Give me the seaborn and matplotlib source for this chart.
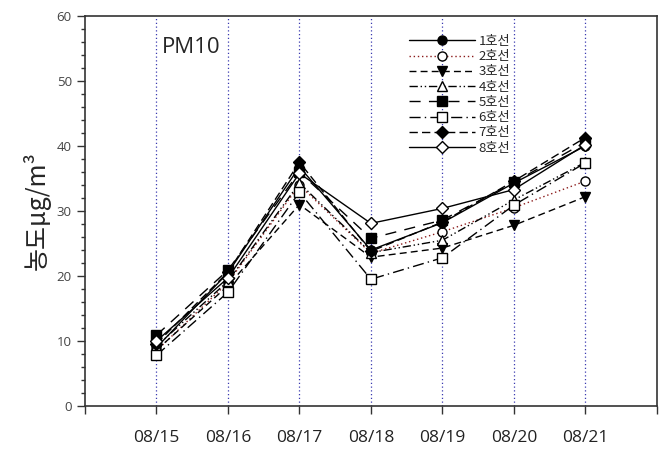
import matplotlib
matplotlib.use("Agg")
import matplotlib.pyplot as plt
import seaborn as sns
import pandas as pd
from matplotlib.ticker import MultipleLocator, FixedLocator

sns.set_theme(style="white")
plt.rcParams['font.family'] = ['Noto Sans CJK KR', 'DejaVu Sans']

dates = ["08/15", "08/16", "08/17", "08/18", "08/19", "08/20", "08/21"]
line1 = [9.0, 20.5, 36.8, 24.0, 28.2, 34.3, 40.0]
line2 = [8.5, 19.0, 34.0, 23.5, 26.8, 30.5, 34.6]
line3 = [8.6, 18.5, 31.0, 22.9, 24.3, 27.8, 32.2]
line4 = [9.2, 19.2, 34.3, 23.6, 25.5, 31.7, 37.5]
line5 = [10.9, 20.9, 36.0, 25.8, 28.6, 34.4, 40.6]
line6 = [7.8, 17.5, 32.9, 19.5, 22.8, 30.9, 37.4]
line7 = [9.6, 20.6, 37.5, 23.8, 28.3, 34.6, 41.3]
line8 = [10.0, 19.7, 35.8, 28.1, 30.4, 33.3, 40.2]
names = ["1호선", "2호선", "3호선", "4호선", "5호선", "6호선", "7호선", "8호선"]
series = [line1, line2, line3, line4, line5, line6, line7, line8]

styles = [
    dict(marker='o', mfc='black', ls='-', color='black'),
    dict(marker='o', mfc='white', ls=(0, (1, 2)), color='#8b1a1a'),
    dict(marker='v', mfc='black', ls=(0, (5, 3)), color='black'),
    dict(marker='^', mfc='white', ls=(0, (6, 2, 1, 2, 1, 2)), color='black'),
    dict(marker='s', mfc='black', ls=(0, (8, 6)), color='black'),
    dict(marker='s', mfc='white', ls=(0, (8, 3, 1, 3)), color='black'),
    dict(marker='D', mfc='black', ls=(0, (6, 3)), color='black'),
    dict(marker='D', mfc='white', ls='-', color='black'),
]

fig = plt.figure(figsize=(6.61, 4.54), dpi=100)
ax = fig.add_axes([0.1286, 0.1057, 0.865, 0.859])

xs = list(range(len(dates)))
for x in xs:
    ax.axvline(x, color='#3a3ab0', ls=(0, (1, 2)), lw=0.9, zorder=0)

for name, vals, st in zip(names, series, styles):
    df = pd.DataFrame({"x": xs, "y": vals})
    ms = 6.5 if st['marker'] != 'D' else 6
    sns.lineplot(data=df, x="x", y="y", ax=ax, color=st['color'], lw=1.0,
                 linestyle=st['ls'], marker=st['marker'], markersize=ms,
                 markerfacecolor=st['mfc'], markeredgecolor='black',
                 markeredgewidth=1.0, label=name)

ax.set_xlim(-1, 7)
ax.set_ylim(0, 60)
ax.xaxis.set_major_locator(FixedLocator(list(range(-1, 8))))
ax.set_xticklabels([""] + dates + [""], fontsize=12.5)
ax.yaxis.set_major_locator(MultipleLocator(10))
ax.yaxis.set_minor_locator(MultipleLocator(2))
ax.tick_params(axis='y', which='major', direction='out', length=6, width=1, labelsize=9.5, colors='#333333', left=True)
ax.tick_params(axis='y', which='minor', direction='out', length=3, width=1, left=True, colors='#333333')
ax.tick_params(axis='x', which='major', direction='out', length=6, width=1, pad=11, bottom=True, colors='#333333')
for lab in ax.get_xticklabels():
    lab.set_color('#222222')
    lab.set_family(['Open Sans', 'DejaVu Sans'])
for lab in ax.get_yticklabels():
    lab.set_color('#444444')
    lab.set_family(['Open Sans', 'DejaVu Sans'])
for sp in ax.spines.values():
    sp.set_color('#333333')
    sp.set_linewidth(1.2)

ax.set_xlabel("")
ax.set_ylabel("농도μg/m³", fontsize=18, labelpad=4)
ax.text(0.135, 0.92, "PM10", transform=ax.transAxes, fontsize=16, va='center', ha='left',
        family=['Open Sans', 'DejaVu Sans'])

leg = ax.legend(loc='upper left', bbox_to_anchor=(0.55, 0.975), frameon=False,
                fontsize=9.5, handlelength=5.0, labelspacing=0.17, handletextpad=0.3,
                borderpad=0.2)

fig.savefig("out.png", dpi=100, facecolor='white')
